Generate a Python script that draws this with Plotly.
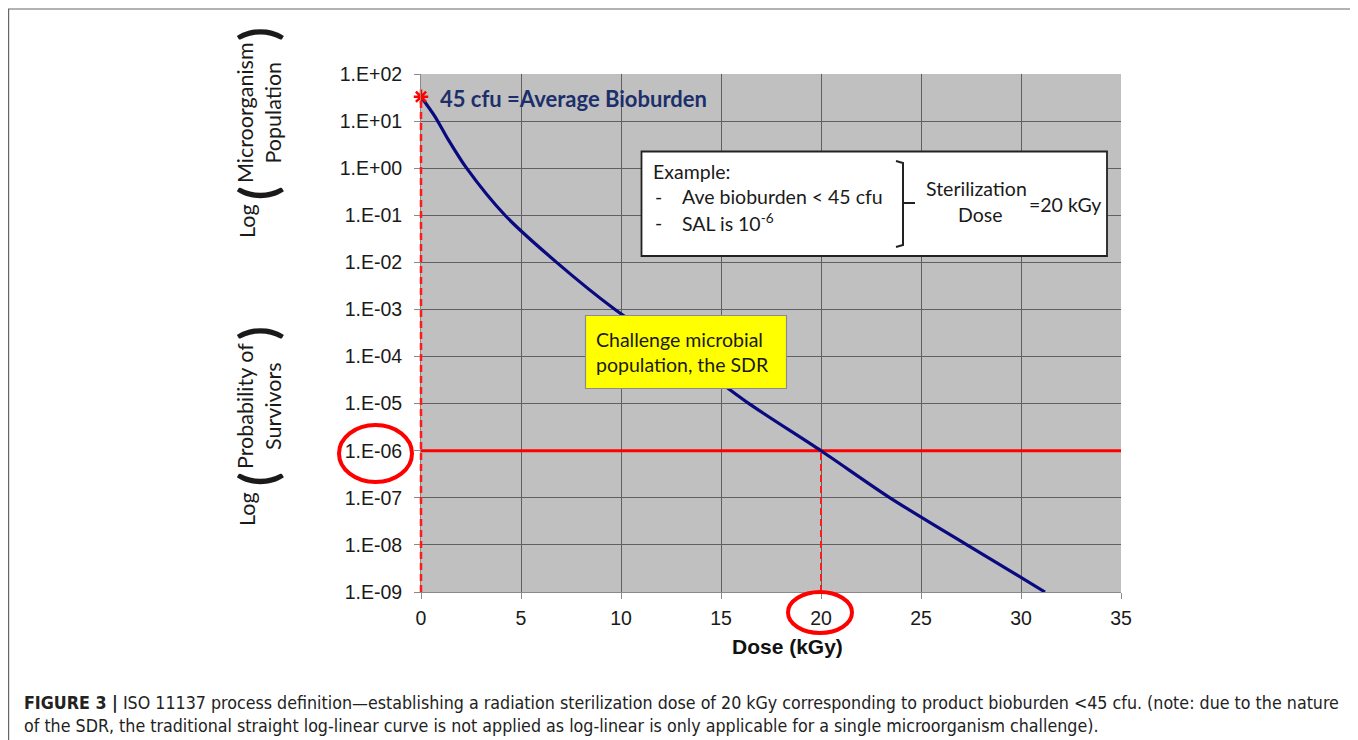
import math
import plotly.graph_objects as go

# ---------------- data ----------------
dose_kgy = [0, 0.7, 1.37, 2.28, 4.2, 6.78, 9.7, 13.2, 16.4, 20, 23.45, 27.3, 31.2]
survivors = [33, 12.5, 4.0, 1e0, 1e-1, 1e-2, 1e-3, 1e-4, 1e-5, 1e-6, 1e-7, 1e-8, 1e-9]
bioburden_point = [0, 33]
sal_level = 1e-6
sterilization_dose = 20
x_ticks = [0, 5, 10, 15, 20, 25, 30, 35]
y_tickvals = [1e2, 1e1, 1e0, 1e-1, 1e-2, 1e-3, 1e-4, 1e-5, 1e-6, 1e-7, 1e-8, 1e-9]
y_ticktext = ["1.E+02", "1.E+01", "1.E+00", "1.E-01", "1.E-02", "1.E-03",
              "1.E-04", "1.E-05", "1.E-06", "1.E-07", "1.E-08", "1.E-09"]

Y_RANGE = [-9, 2]
X_RANGE = [0, 35]

# page body margin offset (the figure is placed 8px from page corner)
OFF = 8
W, H = 1358 - OFF, 740 - OFF
# plot area in reference (page) pixels
L, R, T, B = 421, 1121, 74, 592


def px(x):
    return (x - L) / (R - L)


def py(y):
    return (B - y) / (B - T)


def ylog_paper(v):
    return (math.log10(v) - Y_RANGE[0]) / (Y_RANGE[1] - Y_RANGE[0])


CAL = "Lato, Carlito, Calibri, 'Open Sans', sans-serif"
ARIAL = "'Liberation Sans', Arial, sans-serif"
NARROW = "'Liberation Sans Narrow', 'Arial Narrow', 'DejaVu Sans Condensed', sans-serif"

fig = go.Figure()

# red dashed vertical at sterilization dose
fig.add_trace(go.Scatter(x=[sterilization_dose, sterilization_dose], y=[1e-9, sal_level], mode="lines",
                         line=dict(color="#ff1a1a", width=2, dash="7px,4px"),
                         hoverinfo="skip", showlegend=False))
# SAL horizontal line
fig.add_trace(go.Scatter(x=X_RANGE, y=[sal_level, sal_level], mode="lines",
                         line=dict(color="#ff0000", width=3),
                         hoverinfo="skip", showlegend=False))
# survivor curve
fig.add_trace(go.Scatter(x=dose_kgy, y=survivors, mode="lines",
                         line=dict(color="#0a0a80", width=3.2, shape="spline", smoothing=0.8),
                         showlegend=False))
# bioburden star
fig.add_trace(go.Scatter(x=[bioburden_point[0]], y=[bioburden_point[1]], mode="markers",
                         marker=dict(symbol="asterisk-open", size=12, color="#ff0000",
                                     line=dict(color="#ff0000", width=2.5)),
                         showlegend=False, cliponaxis=False))

shapes = []
annotations = []

# red dashed vertical at dose 0 up to bioburden (paper ref so it is not clipped)
shapes.append(dict(type="line", xref="paper", yref="paper",
                   x0=0, x1=0, y0=0, y1=ylog_paper(bioburden_point[1]),
                   line=dict(color="#ff1a1a", width=2.5, dash="7px,4px")))

# outer figure border
shapes.append(dict(type="rect", xref="paper", yref="paper",
                   x0=px(8.6), x1=px(1351), y0=py(9), y1=py(745),
                   line=dict(color="#666666", width=1.2), layer="below"))

# example box
shapes.append(dict(type="rect", xref="paper", yref="paper",
                   x0=px(641.5), x1=px(1107), y0=py(151.5), y1=py(256),
                   line=dict(color="#222222", width=1.8), fillcolor="white"))
# bracket
shapes.append(dict(type="path", xref="paper", yref="paper",
                   path=f"M {px(896)},{py(161)} L {px(903)},{py(163)} L {px(903)},{py(245)} L {px(896)},{py(247)}",
                   line=dict(color="#222222", width=2)))
shapes.append(dict(type="line", xref="paper", yref="paper",
                   x0=px(903), x1=px(915), y0=py(203), y1=py(203),
                   line=dict(color="#222222", width=2)))

# yellow box
shapes.append(dict(type="rect", xref="paper", yref="paper",
                   x0=px(585.5), x1=px(786.5), y0=py(315.5), y1=py(388.5),
                   line=dict(color="#8c8c8c", width=1.2), fillcolor="#ffff00"))

# ellipses
shapes.append(dict(type="circle", xref="paper", yref="paper",
                   x0=px(339), x1=px(412), y0=py(425), y1=py(482),
                   line=dict(color="#ff0000", width=4)))
shapes.append(dict(type="circle", xref="paper", yref="paper",
                   x0=px(788), x1=px(852), y0=py(592), y1=py(633),
                   line=dict(color="#ff0000", width=4)))


def ann(x, y, text, size=18, color="#1a1a1a", family=CAL, xanchor="left", yanchor="middle",
        angle=0, align="left"):
    annotations.append(dict(x=px(x), y=py(y), xref="paper", yref="paper", text=text,
                            showarrow=False, xanchor=xanchor, yanchor=yanchor,
                            textangle=angle, align=align,
                            font=dict(size=size, color=color, family=family)))


# bioburden label
ann(438, 98, "<b>45 cfu =Average Bioburden</b>", size=22, color="#1c2f6b")

# example box text
BOX = 19.5
ann(651, 172, "Example:", size=BOX)
ann(653, 196, "-", size=BOX)
ann(680, 196, "Ave bioburden &lt; 45 cfu", size=BOX)
ann(653, 222, "-", size=BOX)
ann(680, 222, "SAL is 10<sup>-6</sup>", size=BOX)
ann(976, 188, "Sterilization", size=BOX, xanchor="center")
ann(980, 214, "Dose", size=BOX, xanchor="center")
ann(1027, 204, "=20 kGy", size=BOX)

# yellow box text
ann(594, 352, "Challenge microbial<br>population, the SDR", size=BOX)

# x axis title
ann(787, 646, "<b>Dose (kGy)</b>", size=21, family=ARIAL, xanchor="center", color="#111111")

# y-side titles (rotated)
YT = 21.5
ann(247, 221, "Log", size=YT, xanchor="center", angle=-90)
ann(257, 193, "<b>(</b>", size=50, xanchor="center", angle=-90)
ann(259, 113, "Microorganism<br>Population", size=YT, xanchor="center", angle=-90, align="center")
ann(257, 34, "<b>)</b>", size=50, xanchor="center", angle=-90)

ann(247, 509, "Log", size=YT, xanchor="center", angle=-90)
ann(257, 479, "<b>(</b>", size=50, xanchor="center", angle=-90)
ann(259, 406, "Probability of<br>Survivors", size=YT, xanchor="center", angle=-90, align="center")
ann(257, 333, "<b>)</b>", size=50, xanchor="center", angle=-90)

# caption
CAP = 17.7
ann(22, 703, "<b>FIGURE 3 |</b> ISO 11137 process definition\u2014establishing a radiation sterilization dose of 20 kGy "
    "corresponding to product bioburden &lt;45 cfu. (note: due to the nature", size=CAP, family=NARROW, color="#222222")
ann(22, 726, "of the SDR, the traditional straight log-linear curve is not applied as log-linear is only applicable "
    "for a single microorganism challenge).", size=CAP, family=NARROW, color="#222222")

fig.update_layout(
    width=W, height=H,
    margin=dict(l=L - OFF, r=W - (R - OFF), t=T - OFF, b=H - (B - OFF), pad=0),
    paper_bgcolor="white",
    plot_bgcolor="#c0c0c0",
    shapes=shapes,
    annotations=annotations,
    xaxis=dict(range=X_RANGE, tickvals=x_ticks, ticktext=[str(v) for v in x_ticks],
               showgrid=True, gridcolor="#606060", gridwidth=1, zeroline=False,
               showline=True, linecolor="#8a8a8a", linewidth=1,
               ticks="outside", ticklen=6, tickcolor="#8a8a8a",
               tickfont=dict(size=19.5, family=ARIAL, color="#1a1a1a"), ticklabelstandoff=3),
    yaxis=dict(type="log", range=Y_RANGE, tickvals=y_tickvals, ticktext=y_ticktext,
               showgrid=True, gridcolor="#606060", gridwidth=1, zeroline=False,
               showline=True, linecolor="#8a8a8a", linewidth=1,
               ticks="outside", ticklen=6, tickcolor="#8a8a8a",
               tickfont=dict(size=19.5, family=ARIAL, color="#1a1a1a"), ticklabelstandoff=8),
)

fig.write_html("out.html")
